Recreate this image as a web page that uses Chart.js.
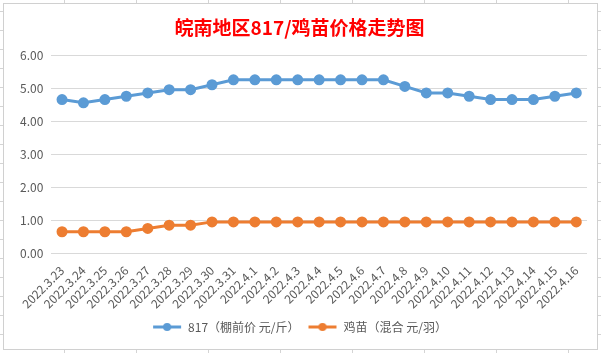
<!DOCTYPE html>
<html>
<head>
<meta charset="utf-8">
<script src="https://cdn.jsdelivr.net/npm/chart.js@4.4.1/dist/chart.umd.min.js"></script>
<style>
  html, body { margin: 0; padding: 0; }
  body {
    width: 601px; height: 353px; overflow: hidden; position: relative;
    background-color: #fff;
    background-image:
      repeating-linear-gradient(90deg, transparent 0 64px, #d4d4d4 64px 65px, transparent 65px 72px),
      repeating-linear-gradient(0deg, transparent 0 18px, #d4d4d4 18px 19px);
  }
  #box {
    position: absolute; left: 3px; top: 3px; width: 593px; height: 345px;
    background: #fff; border: 1px solid #d0d0d0;
  }
</style>
</head>
<body>
<div id="box"><canvas id="chart" width="593" height="345"></canvas></div>
<script>
// 日期
const dates = [
  "2022.3.23", "2022.3.24", "2022.3.25", "2022.3.26", "2022.3.27", "2022.3.28",
  "2022.3.29", "2022.3.30", "2022.3.31", "2022.4.1", "2022.4.2", "2022.4.3",
  "2022.4.4", "2022.4.5", "2022.4.6", "2022.4.7", "2022.4.8", "2022.4.9",
  "2022.4.10", "2022.4.11", "2022.4.12", "2022.4.13", "2022.4.14", "2022.4.15",
  "2022.4.16"
];

// 817 棚前价 元/斤
const price817 = [
  4.67, 4.57, 4.67, 4.77, 4.87, 4.97, 4.97, 5.12, 5.27, 5.27, 5.27, 5.27,
  5.27, 5.27, 5.27, 5.27, 5.07, 4.87, 4.87, 4.77, 4.67, 4.67, 4.67, 4.77,
  4.87
];

// 鸡苗 混合 元/羽
const chickPrice = [
  0.65, 0.65, 0.65, 0.65, 0.75, 0.85, 0.85, 0.95, 0.95, 0.95, 0.95, 0.95,
  0.95, 0.95, 0.95, 0.95, 0.95, 0.95, 0.95, 0.95, 0.95, 0.95, 0.95, 0.95,
  0.95
];

const seriesNames = ["817（棚前价 元/斤）", "鸡苗（混合 元/羽）"];
const colors = ["#5b9bd5", "#ed7d31"];

// 图例里的线+圆点
function legendIcon(color) {
  const c = document.createElement("canvas");
  c.width = 30;
  c.height = 10;
  const g = c.getContext("2d");
  g.strokeStyle = color;
  g.lineWidth = 3;
  g.beginPath();
  g.moveTo(1, 5);
  g.lineTo(29, 5);
  g.stroke();
  g.fillStyle = color;
  g.beginPath();
  g.arc(15, 5, 4, 0, Math.PI * 2);
  g.fill();
  return c;
}

const font = "'Noto Sans CJK SC', 'Noto Sans', sans-serif";

new Chart(document.getElementById("chart"), {
  type: "line",
  data: {
    labels: dates,
    datasets: [
      {
        label: seriesNames[0],
        data: price817,
        borderColor: colors[0],
        backgroundColor: colors[0],
        borderWidth: 3,
        pointRadius: 4,
        pointHoverRadius: 4,
        tension: 0,
      },
      {
        label: seriesNames[1],
        data: chickPrice,
        borderColor: colors[1],
        backgroundColor: colors[1],
        borderWidth: 3,
        pointRadius: 4,
        pointHoverRadius: 4,
        tension: 0,
      },
    ],
  },
  options: {
    responsive: false,
    animation: false,
    layout: { padding: { left: 8, right: 10, top: 4, bottom: 6 } },
    plugins: {
      title: {
        display: true,
        text: "皖南地区817/鸡苗价格走势图",
        color: "#ff0000",
        font: { family: font, size: 19, weight: "bold" },
        padding: { top: 8, bottom: 17 },
      },
      legend: {
        position: "bottom",
        labels: {
          usePointStyle: true,
          pointStyleWidth: 30,
          color: "#595959",
          font: { family: font, size: 12 },
          padding: 8,
          generateLabels: (chart) =>
            chart.data.datasets.map((ds, i) => ({
              text: ds.label,
              pointStyle: legendIcon(colors[i]),
              fontColor: "#595959",
              datasetIndex: i,
              hidden: false,
              lineWidth: 0,
            })),
        },
      },
      tooltip: { enabled: false },
    },
    scales: {
      x: {
        offset: true,
        grid: { display: false },
        border: { display: false },
        ticks: {
          color: "#595959",
          font: { family: font, size: 12 },
          minRotation: 45,
          maxRotation: 45,
          autoSkip: false,
          padding: 2,
        },
      },
      y: {
        min: 0,
        max: 6,
        grid: { color: "#d9d9d9", drawTicks: false },
        border: { display: false },
        ticks: {
          stepSize: 1,
          color: "#595959",
          font: { family: font, size: 12 },
          padding: 8,
          callback: (v) => v.toFixed(2),
        },
      },
    },
  },
});
</script>
</body>
</html>
